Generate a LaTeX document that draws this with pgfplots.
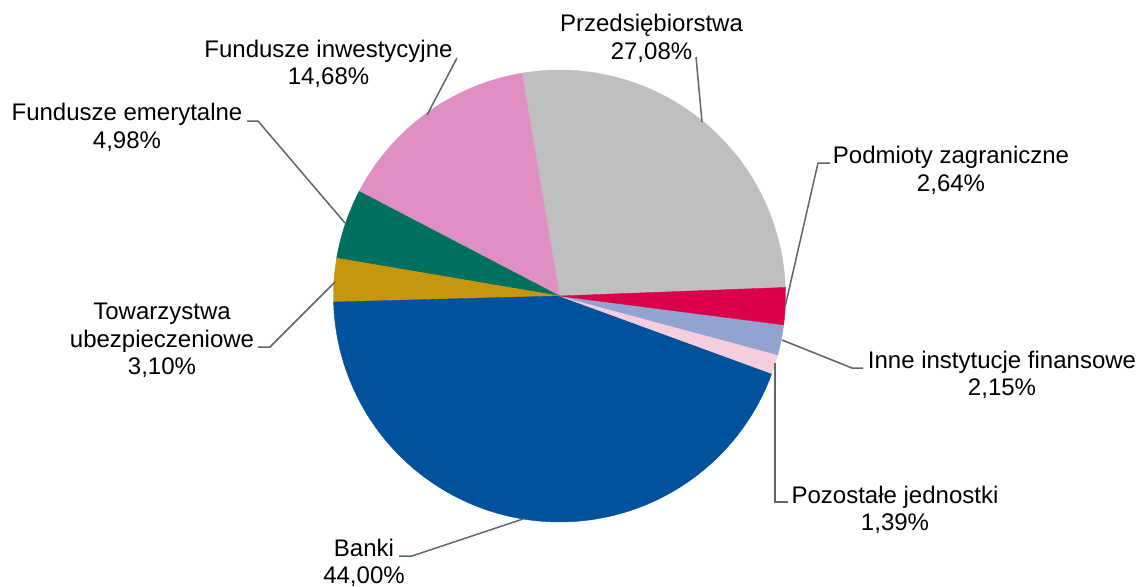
\documentclass[border=0pt]{standalone}
\usepackage{fontspec}
\setmainfont{Liberation Sans}
\usepackage{pgfplots}
\pgfplotsset{compat=1.18}

\definecolor{cPrz}{HTML}{BFBFBF}
\definecolor{cInw}{HTML}{DF8FC2}
\definecolor{cEme}{HTML}{00705E}
\definecolor{cTow}{HTML}{C6960C}
\definecolor{cBan}{HTML}{00529C}
\definecolor{cPoz}{HTML}{F6CEDD}
\definecolor{cInn}{HTML}{93A3D0}
\definecolor{cPod}{HTML}{DC0048}
\definecolor{leader}{HTML}{5A6670}
\newcommand\lbl{\fontsize{12}{14}\selectfont}

\begin{document}
\begin{tikzpicture}[every node/.style={inner sep=0pt,outer sep=0pt}]
\begin{axis}[hide axis,scale only axis,width=569pt,height=293pt,
 xmin=0,xmax=1138,ymin=0,ymax=586,y dir=reverse,clip=false]
\path (axis cs:0,0) rectangle (axis cs:1138,586);
% shares in percent, counterclockwise from 2.1 deg
\xdef\cum{2.1}
\foreach \v/\c in {27.08/cPrz,14.68/cInw,4.98/cEme,3.10/cTow,44.00/cBan,1.39/cPoz,2.15/cInn,2.64/cPod}{
  \pgfmathsetmacro\a{\cum}
  \pgfmathsetmacro\b{\cum+3.6*\v}
  \xdef\cum{\b}
  \edef\cmd{\noexpand\addplot[fill=\c,draw=\c,line width=0.2pt,domain=\a:\b,samples=80]
    ({559.5+226*cos(x)},{296-226*sin(x)}) -- (axis cs:559.5,296) -- cycle;}
  \cmd
}
% leader lines
\addplot[leader,line width=0.75pt] coordinates {(696,57) (702,122)};
\addplot[leader,line width=0.75pt] coordinates {(457,58) (427,115)};
\addplot[leader,line width=0.75pt] coordinates {(247,121) (258,121) (345,223)};
\addplot[leader,line width=0.75pt] coordinates {(258,347) (270,347) (335,282)};
\addplot[leader,line width=0.75pt] coordinates {(399,556) (412,556) (523,519)};
\addplot[leader,line width=0.75pt] coordinates {(830,163) (818,163) (785,307)};
\addplot[leader,line width=0.75pt] coordinates {(782,340) (852,368) (863,368)};
\addplot[leader,line width=0.75pt] coordinates {(775,363) (775,502) (788,502)};
% labels
\node[anchor=base,font=\lbl] at (axis cs:651.5,32) {Przedsiębiorstwa};
\node[anchor=base,font=\lbl] at (axis cs:651.5,59) {27,08\%};
\node[anchor=base,font=\lbl] at (axis cs:328.5,57) {Fundusze inwestycyjne};
\node[anchor=base,font=\lbl] at (axis cs:328.5,84) {14,68\%};
\node[anchor=base,font=\lbl] at (axis cs:127,120) {Fundusze emerytalne};
\node[anchor=base,font=\lbl] at (axis cs:127,148) {4,98\%};
\node[anchor=base,font=\lbl] at (axis cs:162,319) {Towarzystwa};
\node[anchor=base,font=\lbl] at (axis cs:162,347) {ubezpieczeniowe};
\node[anchor=base,font=\lbl] at (axis cs:162,374) {3,10\%};
\node[anchor=base,font=\lbl] at (axis cs:364,556) {Banki};
\node[anchor=base,font=\lbl] at (axis cs:364,583) {44,00\%};
\node[anchor=base,font=\lbl] at (axis cs:951,163) {Podmioty zagraniczne};
\node[anchor=base,font=\lbl] at (axis cs:951,191) {2,64\%};
\node[anchor=base,font=\lbl] at (axis cs:1002,368) {Inne instytucje finansowe};
\node[anchor=base,font=\lbl] at (axis cs:1002,395) {2,15\%};
\node[anchor=base,font=\lbl] at (axis cs:895,503) {Pozostałe jednostki};
\node[anchor=base,font=\lbl] at (axis cs:895,530) {1,39\%};
\end{axis}
\end{tikzpicture}
\end{document}
